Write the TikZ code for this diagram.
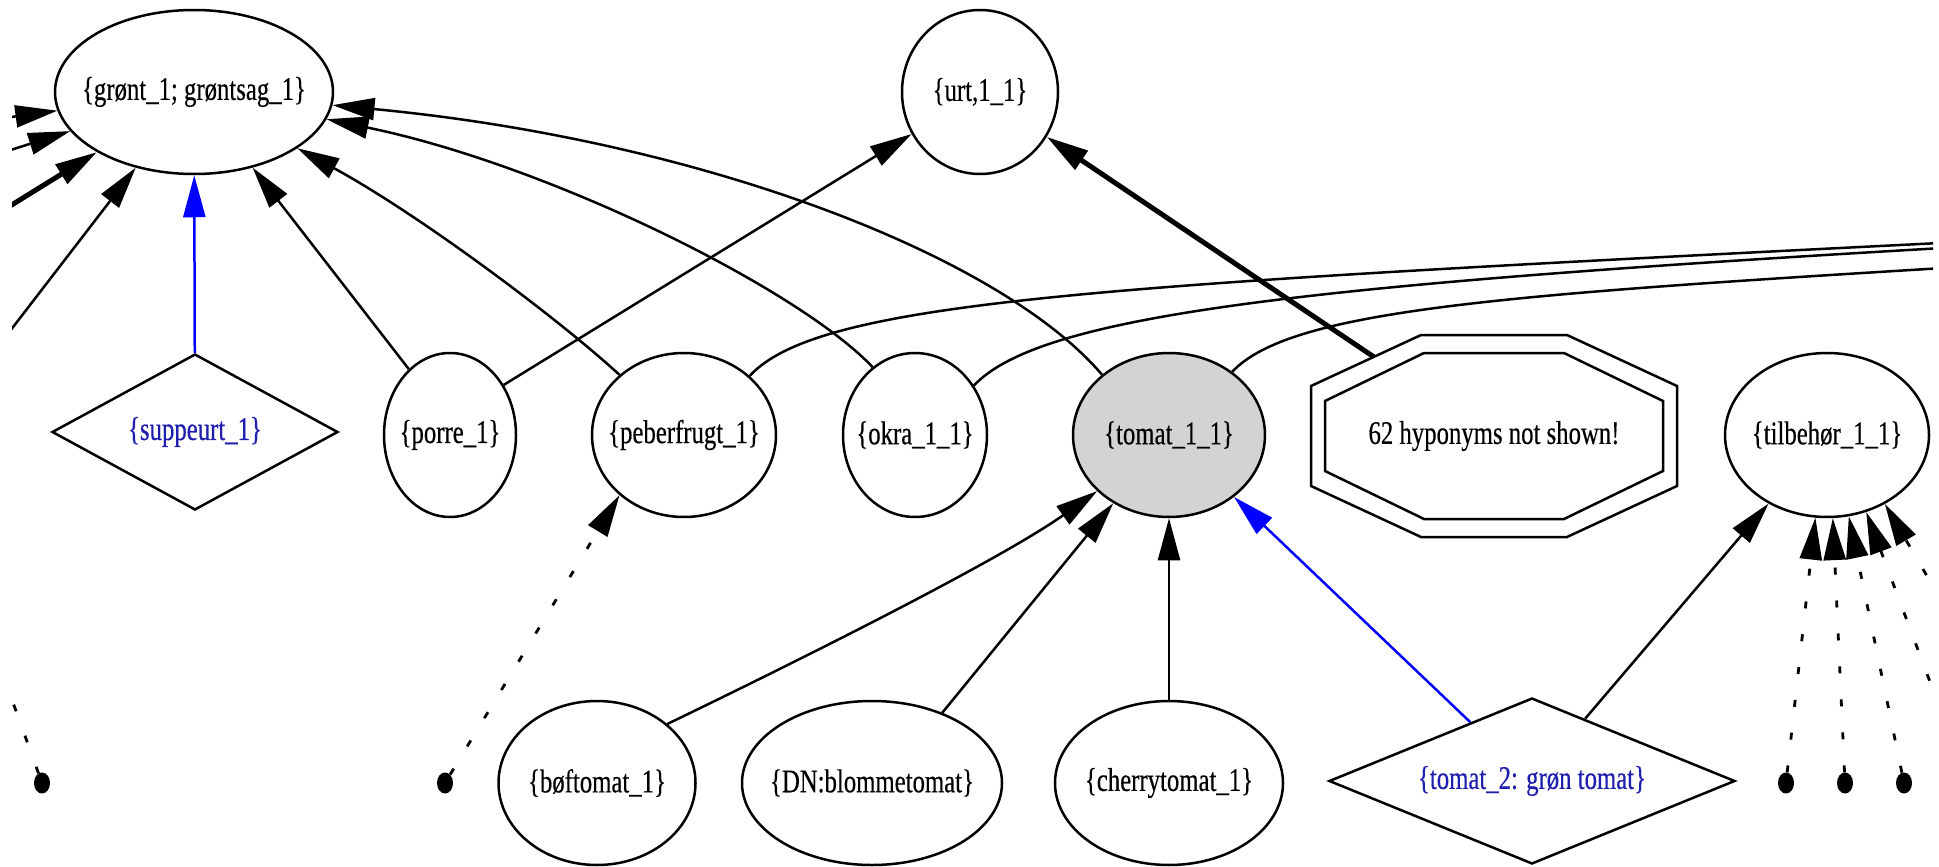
\documentclass[tikz,border=0pt]{standalone}
\usepackage{fontspec}
\setmainfont[FakeStretch=0.75,FakeBold=0.4]{Liberation Serif}
\usetikzlibrary{shapes.geometric,arrows.meta}
\definecolor{lbl}{RGB}{30,30,175}
\definecolor{tgray}{RGB}{211,211,211}
\newcommand\gvf{\fontsize{33pt}{33pt}\selectfont}
\newcommand\zb[1]{\makebox[0pt][c]{#1}}
\begin{document}
\begin{tikzpicture}[x=1pt,y=-1pt,
  nd/.style={ellipse, draw, line width=2.5pt, fill=white, inner sep=0pt, minimum height=164pt, font=\gvf},
  dm/.style={diamond, draw, line width=2.5pt, fill=white, inner sep=0pt, font=\gvf, text=lbl},
  conn/.style={line width=2.5pt, -{Triangle[length=42pt,width=22pt]}},
  thk/.style={conn, line width=5pt},
  bconn/.style={conn, blue},
  dline/.style={line width=2.8pt, dash pattern=on 7pt off 26pt},
  dconn/.style={conn, line width=2.8pt, dash pattern=on 7pt off 26pt},
  plain/.style={line width=2.5pt},
  pnode/.style={ellipse, fill=black, inner sep=0pt, minimum width=16pt, minimum height=21pt}
]
\useasboundingbox (0,0) rectangle (1939,867);
\begin{scope}
\clip (12,0) rectangle (1933,867);

% top row
\node[nd, minimum width=278pt] (gront) at (194,92) {\zb{\{grønt\_1; grøntsag\_1\}}};
\node[nd, minimum width=156pt] (urt) at (980,92) {\zb{\{urt,1\_1\}}};

% middle row
\node[dm, minimum width=286pt, minimum height=156pt, aspect=1.83] (supp) at (195,432) {\{suppeurt\_1\}};
\node[nd, minimum width=132pt] (porre) at (450,435) {\zb{\{porre\_1\}}};
\node[nd, minimum width=184pt] (peber) at (684,435) {\zb{\{peberfrugt\_1\}}};
\node[nd, minimum width=144pt] (okra) at (915,435) {\zb{\{okra\_1\_1\}}};
\node[nd, minimum width=192pt, fill=tgray] (tomat) at (1169,435) {\zb{\{tomat\_1\_1\}}};
\node[font=\gvf, inner sep=0pt, minimum width=366pt, minimum height=203pt] (hyp) at (1494,436) {62 hyponyms not shown!};
\draw[line width=2.5pt, shift={(1494,436)}] (-73,-101) -- (73,-101) -- (183,-50) -- (183,50) -- (73,101) -- (-73,101) -- (-183,50) -- (-183,-50) -- cycle;
\draw[line width=2.5pt, shift={(1494,436)}] (-70,-83) -- (70,-83) -- (169,-35) -- (169,35) -- (70,83) -- (-70,83) -- (-169,35) -- (-169,-35) -- cycle;
\coordinate (hypNW) at (1374,357);
\node[nd, minimum width=204pt] (tilb) at (1827,435) {\zb{\{tilbehør\_1\_1\}}};

% bottom row
\node[nd, minimum width=197pt] (bof) at (597,783) {\zb{\{bøftomat\_1\}}};
\node[nd, minimum width=260pt] (dn) at (872,783) {\zb{\{DN:blommetomat\}}};
\node[nd, minimum width=228pt] (cherry) at (1169,783) {\zb{\{cherrytomat\_1\}}};
\node[dm, minimum width=406pt, minimum height=166pt, aspect=2.45] (tom2) at (1532,781) {\{tomat\_2: grøn tomat\}};

\node[pnode] (d0) at (42,783) {};
\node[pnode] (d1) at (445,783) {};
\node[pnode] (d2) at (1786,783) {};
\node[pnode] (d3) at (1845,783) {};
\node[pnode] (d4) at (1904,783) {};
\node[pnode] (d5) at (1968,783) {};
\node[pnode] (d6) at (2048,783) {};

% off-picture ends
\coordinate (L0) at (-60,500);
\coordinate (L1) at (-40,124);
\coordinate (L2) at (-40,166);
\coordinate (L3) at (-40,237);
\coordinate (L4) at (-40,396);
\coordinate (R1) at (1960,242);
\coordinate (R2) at (1960,247);
\coordinate (R3) at (1960,267);

% edges into gront
\draw[conn] (L1) -- (gront);
\draw[conn] (L2) -- (gront);
\draw[thk] (L3) -- (gront);
\draw[conn] (L4) -- (gront);
\draw[bconn] (supp) -- (gront);
\draw[conn] (porre.122) -- (gront);
\draw[conn] (peber.137) .. controls (560,320) and (420,215) .. (gront);
\draw[conn] (okra.122) .. controls (800,290) and (550,165) .. (gront);
\draw[conn] (tomat.138) .. controls (1000,255) and (700,140) .. (gront);

% edges into urt
\draw[conn] (porre.43) -- (urt);
\draw[thk] (hypNW) -- (urt);

% edges leaving to the right
\draw[plain] (peber.42) .. controls (820,300) and (1100,285) .. (R1);
\draw[plain] (okra.40) .. controls (1040,315) and (1300,285) .. (R2);
\draw[plain] (tomat.45) .. controls (1290,310) and (1500,295) .. (R3);

% edges into tomat
\draw[conn] (bof.40) .. controls (800,660) and (1000,560) .. (tomat.-142);
\draw[conn] (dn.45) -- (tomat);
\draw[conn] (cherry) -- (tomat);
\draw[bconn] (tom2) -- (tomat);

% edges into tilbehor
\draw[conn] (tom2) -- (tilb);
\draw[dconn] (d2) -- (tilb.-98);
\draw[dconn] (d3) -- (tilb.-86);
\draw[dconn] (d4) -- (tilb.-75);
\draw[dconn] (d5) -- (tilb.-63);
\draw[dconn] (d6) -- (tilb.-50);

% dotted edges
\draw[dconn] (d1) -- (peber.-137);
\draw[dline] (d0) -- (L0);
\end{scope}
\end{tikzpicture}
\end{document}
